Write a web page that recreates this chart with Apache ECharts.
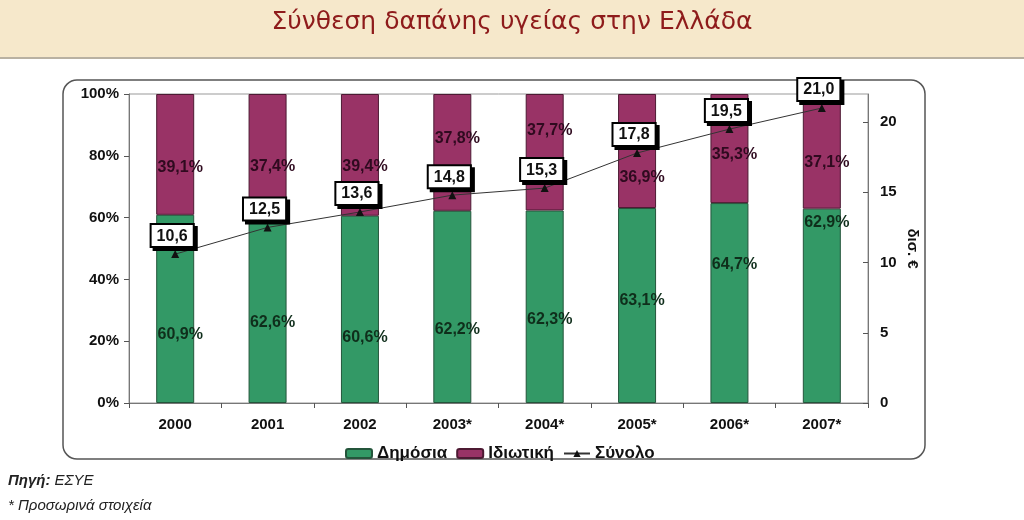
<!DOCTYPE html>
<html lang="el">
<head>
  <meta charset="UTF-8">
  <title>Σύνθεση δαπάνης υγείας</title>
  <style>
    html, body {
      height: 100%;
      width: 100%;
      margin: 0;
      padding: 0;
      background: #ffffff;
    }
  </style>
  <script src="https://cdn.jsdelivr.net/npm/echarts@6/dist/echarts.min.js"></script>
</head>
<body>
<div id="main" style="width: 100%; height: 100%;"></div>

<script>
  // data
  var years = ['2000', '2001', '2002', '2003*', '2004*', '2005*', '2006*', '2007*'];
  var publicShare = [60.9, 62.6, 60.6, 62.2, 62.3, 63.1, 64.7, 62.9];
  var privateShare = [39.1, 37.4, 39.4, 37.8, 37.7, 36.9, 35.3, 37.1];
  var totalBn = [10.6, 12.5, 13.6, 14.8, 15.3, 17.8, 19.5, 21.0];

  // label nudges (px) so the % labels sit where the original has them
  var publicNudge = [26, 16, 28, 23, 13, -5, -38, -83];
  var privateNudge = [13, 15, 12, -14, -22, 27, 6, 11];

  var chartDom = document.getElementById('main');
  var myChart = echarts.init(chartDom);

  function comma(v, d) {
    return v.toFixed(d).replace('.', ',');
  }

  function barData(values, nudges) {
    return values.map(function (v, i) {
      return { value: v, label: { offset: [5, nudges[i]] } };
    });
  }

  var pctLabel = {
    show: true,
    position: 'inside',
    fontFamily: 'Liberation Sans',
    fontWeight: 'bold',
    fontSize: 16,
    formatter: function (p) { return comma(p.value, 1) + '%'; }
  };

  var option = {
    animation: false,
    backgroundColor: '#ffffff',
    textStyle: { fontFamily: 'Liberation Sans' },
    graphic: [
      // parchment header band
      { type: 'rect', shape: { x: 0, y: 0, width: 1024, height: 57 },
        style: { fill: '#f6e8cb' }, z: 0 },
      { type: 'rect', shape: { x: 0, y: 57, width: 1024, height: 2 },
        style: { fill: '#b9b1a2' }, z: 0 },
      { type: 'text', left: 'center', top: 10,
        style: { text: 'Σύνθεση δαπάνης υγείας στην Ελλάδα', fill: '#8e1b1b',
          font: '25px "DejaVu Sans"' } },
      // frame round the chart
      { type: 'rect', shape: { x: 63, y: 80, width: 862, height: 379, r: 14 },
        style: { fill: 'none', stroke: '#555555', lineWidth: 1.5 }, z: 0 },
      { type: 'text', left: 8, top: 473,
        style: { text: '{b|Πηγή:} ΕΣΥΕ', fill: '#222',
          font: 'italic 15px "Liberation Sans"',
          rich: { b: { fontWeight: 'bold', fontStyle: 'italic', fontSize: 15 } } } },
      { type: 'text', left: 8, top: 498,
        style: { text: '* Προσωρινά στοιχεία', fill: '#222',
          font: 'italic 15px "Liberation Sans"' } }
    ],
    legend: {
      left: 340,
      top: 440,
      itemGap: 9,
      itemWidth: 26,
      itemHeight: 9,
      textStyle: { fontFamily: 'Liberation Sans', fontWeight: 'bold', fontSize: 17, color: '#111' },
      data: ['Δημόσια', 'Ιδιωτική', 'Σύνολο']
    },
    grid: {
      left: 129,
      right: 156,
      top: 94,
      bottom: 117,
      show: true,
      borderColor: '#999999',
      borderWidth: 1
    },
    xAxis: {
      type: 'category',
      data: years,
      axisLine: { lineStyle: { color: '#777', width: 1 } },
      axisTick: { show: true, length: 5, lineStyle: { color: '#555' } },
      axisLabel: { margin: 14, fontWeight: 'bold', fontSize: 15, color: '#111' }
    },
    yAxis: [
      {
        type: 'value',
        min: 0,
        max: 100,
        interval: 20,
        splitLine: { show: false },
        axisLine: { show: true, lineStyle: { color: '#777' } },
        axisTick: { show: true, length: 5, lineStyle: { color: '#555' } },
        axisLabel: { formatter: '{value}%', fontWeight: 'bold', fontSize: 15, color: '#111', margin: 10 }
      },
      {
        type: 'value',
        min: 0,
        max: 22,
        interval: 5,
        position: 'right',
        name: 'δισ. €',
        nameLocation: 'middle',
        nameRotate: -90,
        nameGap: 37,
        nameMoveOverlap: false,
        nameTextStyle: { fontWeight: 'bold', fontSize: 15, color: '#111' },
        splitLine: { show: false },
        axisLine: { show: true, lineStyle: { color: '#777' } },
        axisTick: { show: true, inside: true, length: 5, lineStyle: { color: '#555' } },
        axisLabel: { showMaxLabel: false, fontWeight: 'bold', fontSize: 15, color: '#111', margin: 12 }
      }
    ],
    series: [
      {
        name: 'Δημόσια',
        type: 'bar',
        stack: 'share',
        barWidth: 38,
        data: barData(publicShare, publicNudge),
        itemStyle: { color: '#339966', borderColor: '#24553b', borderWidth: 1 },
        label: Object.assign({}, pctLabel, { color: '#0f2e1b' })
      },
      {
        name: 'Ιδιωτική',
        type: 'bar',
        stack: 'share',
        barWidth: 38,
        data: barData(privateShare, privateNudge),
        itemStyle: { color: '#993366', borderColor: '#4d1a33', borderWidth: 1 },
        label: Object.assign({}, pctLabel, { color: '#2f0a1f' })
      },
      {
        name: 'Σύνολο',
        type: 'line',
        yAxisIndex: 1,
        data: totalBn,
        symbol: 'triangle',
        symbolSize: 8,
        itemStyle: { color: '#111111' },
        lineStyle: { color: '#333333', width: 1 },
        z: 5,
        label: {
          show: true,
          position: 'top',
          distance: 4,
          offset: [-3, 0],
          formatter: function (p) { return comma(p.value, 1); },
          fontFamily: 'Liberation Sans',
          fontWeight: 'bold',
          fontSize: 16,
          color: '#111',
          backgroundColor: '#ffffff',
          borderColor: '#000000',
          borderWidth: 2,
          padding: [3, 5, 2, 5],
          shadowColor: '#000000',
          shadowOffsetX: 3,
          shadowOffsetY: 3,
          shadowBlur: 0
        }
      }
    ]
  };

  myChart.setOption(option);
</script>
</body>
</html>
